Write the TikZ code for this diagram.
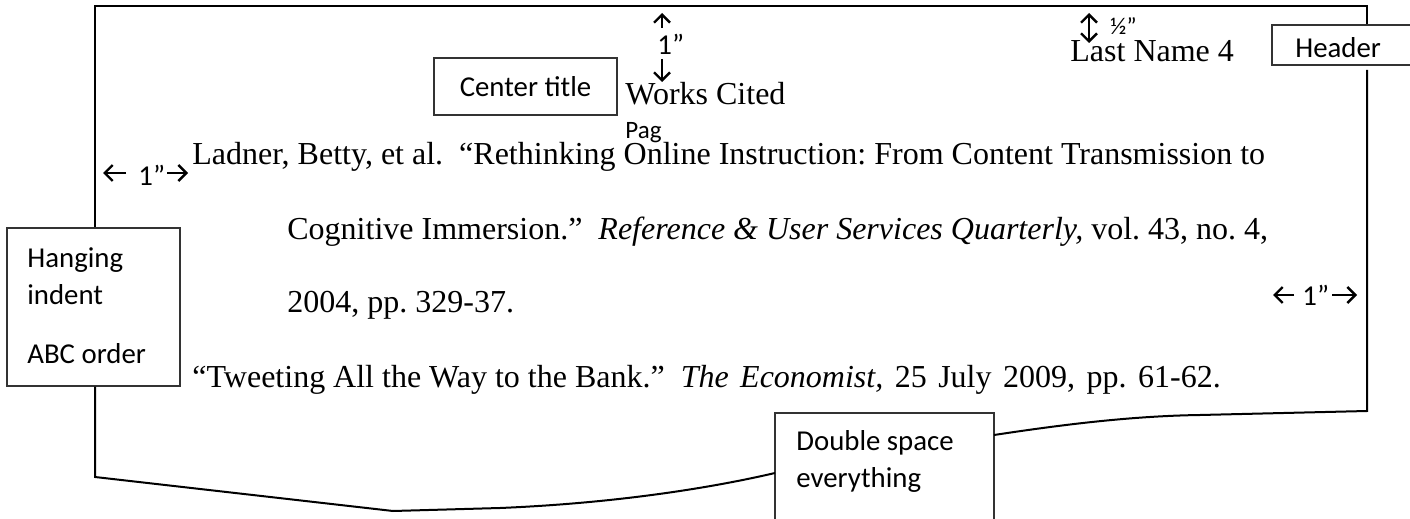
\documentclass[tikz,border=0pt]{standalone}
\usepackage{fontspec}
\setmainfont{Liberation Serif}
\newfontfamily\calfont{Carlito}
\usetikzlibrary{arrows.meta}
\frenchspacing
\begin{document}
\begin{tikzpicture}[x=0.5pt,y=-0.5pt,
  page/.style={line width=1pt, line join=miter},
  box/.style={draw=black!80, line width=0.65pt, fill=white, inner sep=0pt},
  cite/.style={font=\frenchspacing\fontsize{16}{18}\selectfont, inner sep=0pt, anchor=base west},
  lbl/.style={font=\calfont\fontsize{14.4}{17}\selectfont, inner sep=0pt, anchor=base west},
  tipb/.tip={Straight Barb[length=4pt,width=8pt,line width=1.2pt]},
  meas/.style={line width=1.2pt, -tipb},
  dmeas/.style={line width=1.2pt, tipb-tipb},
]
\useasboundingbox (0,0) rectangle (1410,519);

% boxes
\node[box, minimum width=86.5pt, minimum height=79pt] (hang) at (93.5,307) {};
\node[box, minimum width=91.5pt, minimum height=28.5pt, font=\calfont\fontsize{14.4}{17}\selectfont] (ctitle) at (525.5,86.5) {Center title};
\node[box, minimum width=74pt, minimum height=20pt] (hdr) at (1346,45) {};
\node[box, minimum width=109.5pt, minimum height=63.5pt] (dbl) at (884.5,476.5) {};

% box labels
\node[lbl] (hang1) at (27,267) {Hanging};
\node[lbl] (hang2) at (27,305) {indent};
\node[lbl] (hang3) at (27,363) {ABC order};
\node[lbl] (hdrtxt) at (1295,58) {Header};
\node[lbl] (dbl1) at (796,450) {Double space};
\node[lbl] (dbl2) at (796,487) {everything};
\node[lbl, font=\calfont\fontsize{12.5}{14}\selectfont] (pag) at (625,139) {Pag};

% page outline
\coordinate (tl) at (95,6);
\coordinate (tr) at (1367,6);
\coordinate (rtop) at (1367,70);
\coordinate (br) at (1367,411);
\coordinate (bl) at (95,477);
\coordinate (bm) at (393,511);
\coordinate (bf) at (500,508);
\coordinate (dl) at (775,473);
\coordinate (dr) at (994,435);
\coordinate (bk) at (1200,415);
\draw[page] (hdr.north -| tr) -- (tr) -- (tl) -- (hang.north -| tl);
\draw[page] (hang.south -| tl) -- (bl) -- (bm) -- (bf) .. controls (620,503) and (715,487) .. (dl);
\draw[page] (dr) .. controls (1060,425) and (1130,416) .. (bk) -- (br) -- (rtop);

% citation text
\node[cite] (runhead) at (1070,62) {Last Name 4};
\node[cite] (title) at (625,105) {Works Cited};
\node[cite] (l1) at (192,165) {Ladner, Betty, et al.\ \ “Rethinking Online Instruction: From Content Transmission to};
\node[cite] (l2) at (287,240) {Cognitive Immersion.”\ \ \textit{Reference \& User Services Quarterly,} vol. 43, no. 4,};
\node[cite] (l3) at (287,313) {2004, pp. 329-37.};
\node[cite] (l4) at (192,387) {“Tweeting All the Way to the Bank.”\ \ \makebox[270pt][s]{\textit{The Economist,} 25 July 2009, pp. 61-62.}};

% margin marks
\node[lbl] (mtop) at (657,55) {1”};
\coordinate (upB) at (662,28);
\coordinate (upT) at (662,13);
\coordinate (dnT) at (662,59);
\coordinate (dnB) at (662,82);
\draw[meas] (upB) -- (upT);
\draw[meas] (dnT) -- (dnB);

\node[lbl] (mleft) at (138,185) {1”};
\coordinate (lA) at (126,173);
\coordinate (lB) at (103,173);
\coordinate (lC) at (167,173);
\coordinate (lD) at (188,173);
\draw[meas] (lA) -- (lB);
\draw[meas] (lC) -- (lD);

\node[lbl] (mright) at (1302,306) {1”};
\coordinate (rA) at (1294,295);
\coordinate (rB) at (1273,295);
\coordinate (rC) at (1332,295);
\coordinate (rD) at (1357,295);
\draw[meas] (rA) -- (rB);
\draw[meas] (rC) -- (rD);

\node[lbl, font=\calfont\fontsize{12}{14}\selectfont] (mhalf) at (1110,35) {½”};
\coordinate (hT) at (1089,13);
\coordinate (hB) at (1089,43);
\draw[dmeas] (hT) -- (hB);
\end{tikzpicture}
\end{document}
